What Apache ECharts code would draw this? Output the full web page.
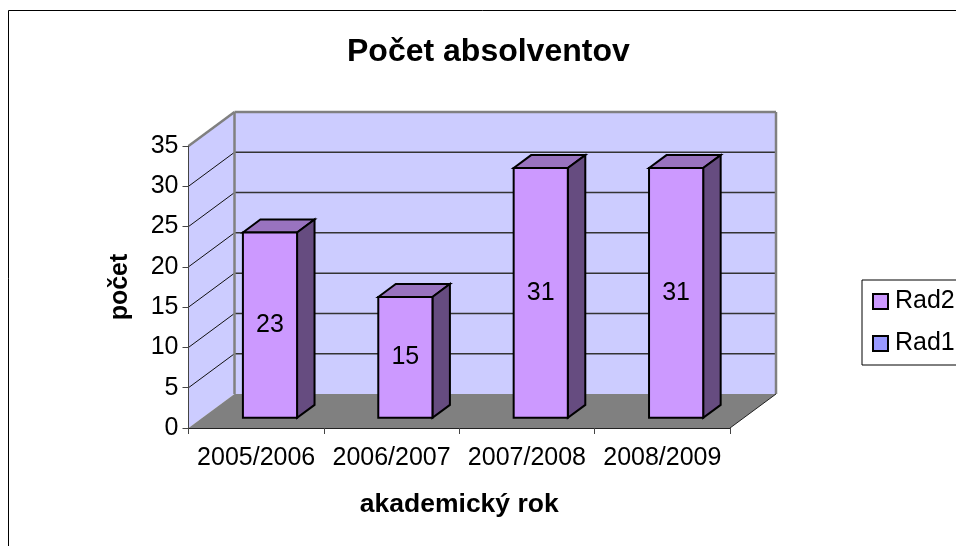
<!DOCTYPE html>
<html><head><meta charset="utf-8">
<style>html,body{margin:0;padding:0;background:#fff}#c{width:956px;height:546px}</style>
<script src="https://cdn.jsdelivr.net/npm/echarts@6/dist/echarts.min.js"></script>
</head><body><div id="c"></div>
<script>
const categories = ['2005/2006','2006/2007','2007/2008','2008/2009'];
const rad2Values = [23,15,31,31];
const rad1Values = [];
const gridValues = [5,10,15,20,25,30];
const yMax = 35;

const FONT = '"Liberation Sans", Arial, sans-serif';
const DX = 46, DY = -34;
const BAR_W = 0.4, D0 = 0.3, D1 = 0.68;

const chart = echarts.init(document.getElementById('c'), null, {renderer:'canvas'});

function wallsItem(params, api){
  const a = api.coord([0,0]), h = api.size([1,0])[0];
  const x0 = a[0]-h/2, x1 = x0+h*categories.length, y0 = a[1], yT = api.coord([0,yMax])[1];
  const kids = [];
  const poly = (pts, fill) => ({type:'polygon', shape:{points:pts}, style:{fill}});
  const line = (p,q,stroke,lw) => ({type:'line', shape:{x1:p[0],y1:p[1],x2:q[0],y2:q[1]}, style:{stroke, lineWidth:lw}});
  kids.push(poly([[x0+DX,yT+DY],[x1+DX,yT+DY],[x1+DX,y0+DY],[x0+DX,y0+DY]],'#CCCCFF'));
  kids.push(poly([[x0,yT],[x0+DX,yT+DY],[x0+DX,y0+DY],[x0,y0]],'#CCCCFF'));
  gridValues.forEach(v=>{
    const y = api.coord([0,v])[1];
    kids.push(line([x0,y],[x0+DX,y+DY],'#111',1));
    kids.push(line([x0+DX,y+DY],[x1+DX,y+DY],'#333',1.5));
  });
  kids.push(line([x0,yT],[x0+DX,yT+DY],'#808080',2.5));
  kids.push(line([x0+DX,yT+DY],[x1+DX,yT+DY],'#808080',2.5));
  kids.push(line([x0+DX,yT+DY],[x0+DX,y0+DY],'#808080',2.5));
  kids.push(line([x1+DX,yT+DY],[x1+DX,y0+DY],'#808080',2.5));
  kids.push(poly([[x0,y0],[x0+DX,y0+DY],[x1+DX,y0+DY],[x1,y0]],'#808080'));
  kids.push(line([x1,y0],[x1+DX,y0+DY],'#222',1));
  return {type:'group', children:kids};
}

function barItem(params, api){
  const c = api.value(0), v = api.value(1);
  const p = api.coord([c,0]), t = api.coord([c,v]), h = api.size([1,0])[0];
  const w = h*BAR_W;
  const fx = DX*D0, fy = DY*D0, bx = DX*D1-fx, by = DY*D1-fy;
  const L = p[0]-w/2+fx, R = L+w, B = p[1]+fy, T = t[1]+fy;
  const st = fill => ({fill, stroke:'#000', lineWidth:2, lineJoin:'miter'});
  return {type:'group', children:[
    {type:'polygon', shape:{points:[[L,T],[L+bx,T+by],[R+bx,T+by],[R,T]]}, style:st('#9973BF')},
    {type:'polygon', shape:{points:[[R,T],[R+bx,T+by],[R+bx,B+by],[R,B]]}, style:st('#664C80')},
    {type:'polygon', shape:{points:[[L,T],[R,T],[R,B],[L,B]]}, style:st('#CC99FF')},
    {type:'text', style:{text:String(v), x:(L+R)/2, y:(T+B)/2, align:'center', verticalAlign:'middle',
      font:'25px '+FONT, fill:'#000'}}
  ]};
}

chart.setOption({
  animation:false,
  backgroundColor:'#fff',
  title:{text:'Počet absolventov', left:347, top:36, padding:0,
    textStyle:{fontFamily:FONT, fontSize:32, fontWeight:'bold', color:'#000'}},
  legend:{
    orient:'vertical', left:862, top:280, padding:[9,10,9,10], itemWidth:15, itemHeight:15, itemGap:17,
    borderColor:'#000', borderWidth:1, backgroundColor:'#fff', selectedMode:false,
    textStyle:{fontFamily:FONT, fontSize:25, color:'#000', padding:[2,0,0,2]},
    data:[
      {name:'Rad2', icon:'rect', itemStyle:{color:'#CC99FF', borderColor:'#000', borderWidth:2}},
      {name:'Rad1', icon:'rect', itemStyle:{color:'#9999FF', borderColor:'#000', borderWidth:2}}
    ]
  },
  grid:{left:188.5, right:226, top:146, bottom:118, containLabel:false},
  xAxis:{type:'category', data:categories, z:5, boundaryGap:true, name:'akademický rok', nameLocation:'middle', nameGap:63,
    nameTextStyle:{fontFamily:FONT, fontSize:26.5, fontWeight:'bold', color:'#000'},
    axisLine:{show:true, onZero:false, lineStyle:{color:'#222',width:1}},
    axisTick:{show:true, alignWithLabel:false, length:6, interval:0, lineStyle:{color:'#444',width:1}},
    axisLabel:{fontFamily:FONT, fontSize:25, color:'#000', margin:18, interval:0, hideOverlap:false}, splitLine:{show:false}},
  yAxis:{type:'value', min:0, max:yMax, interval:5, z:5, name:'počet', nameLocation:'middle', nameGap:56,
    nameTextStyle:{fontFamily:FONT, fontSize:25, fontWeight:'bold', color:'#000'},
    axisLine:{show:true, lineStyle:{color:'#444',width:1}}, axisTick:{show:true,length:6,lineStyle:{color:'#444',width:1}},
    axisLabel:{fontFamily:FONT, fontSize:25, color:'#000', margin:10, padding:[3,0,0,0]}, splitLine:{show:false}},
  series:[
    {type:'custom', name:'walls', data:[[0,0]], renderItem:wallsItem, silent:true, z:1},
    {type:'custom', name:'Rad2', data:rad2Values.map((v,i)=>[i,v]), renderItem:barItem, encode:{x:0,y:1}, itemStyle:{color:'#CC99FF'}, z:3},
    {type:'custom', name:'Rad1', data:rad1Values.map((v,i)=>[i,v]), renderItem:barItem, encode:{x:0,y:1}, itemStyle:{color:'#9999FF'}, z:3}
  ],
  graphic:[
    {type:'polyline', silent:true, z:0, shape:{points:[[8.5,546],[8.5,10.5],[956,10.5]]}, style:{stroke:'#000', lineWidth:1, fill:null}}
  ]
});
</script></body></html>
